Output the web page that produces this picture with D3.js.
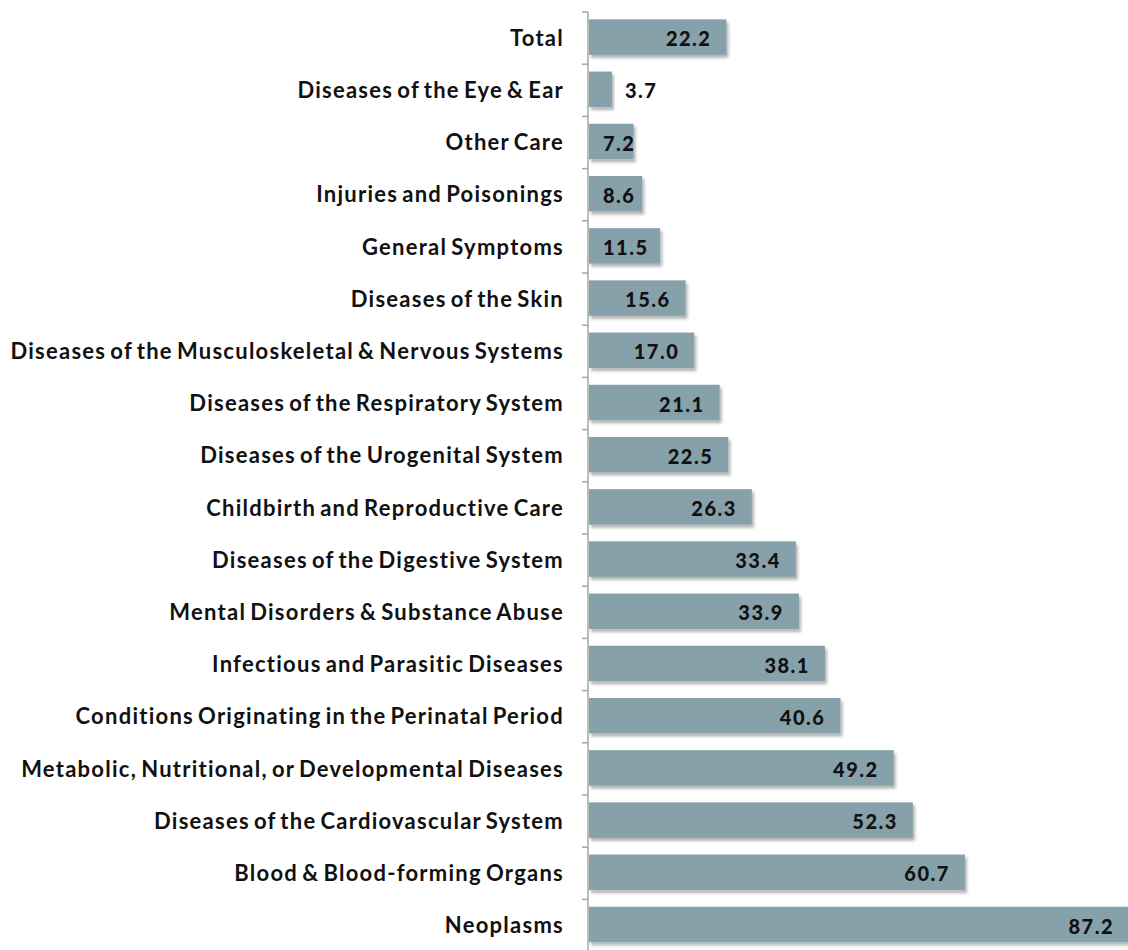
<!DOCTYPE html>
<html>
<head>
<meta charset="utf-8">
<script src="https://cdn.jsdelivr.net/npm/d3@7"></script>
<style>
  body { margin: 0; background: #fff; }
  text { font-family: Lato, "Liberation Sans", sans-serif; font-weight: bold; fill: #111; }
</style>
</head>
<body>
<div id="chart"></div>
<script>
const width = 1128, height = 950;

// data, top to bottom
const categories = [
    "Total",
    "Diseases of the Eye & Ear",
    "Other Care",
    "Injuries and Poisonings",
    "General Symptoms",
    "Diseases of the Skin",
    "Diseases of the Musculoskeletal & Nervous Systems",
    "Diseases of the Respiratory System",
    "Diseases of the Urogenital System",
    "Childbirth and Reproductive Care",
    "Diseases of the Digestive System",
    "Mental Disorders & Substance Abuse",
    "Infectious and Parasitic Diseases",
    "Conditions Originating in the Perinatal Period",
    "Metabolic, Nutritional, or Developmental Diseases",
    "Diseases of the Cardiovascular System",
    "Blood & Blood-forming Organs",
    "Neoplasms"
];
const values = [22.2, 3.7, 7.2, 8.6, 11.5, 15.6, 17.0, 21.1, 22.5, 26.3, 33.4, 33.9, 38.1, 40.6, 49.2, 52.3, 60.7, 87.2];

const rows = categories.map((c, i) => ({ name: c, value: values[i] }));

const axisX = 588;

const svg = d3.select("#chart")
    .append("svg")
    .attr("width", width)
    .attr("height", height);

// soft drop shadow like the office chart
const defs = svg.append("defs");
defs.append("filter")
    .attr("id", "shadow")
    .attr("x", "-5%").attr("y", "-20%")
    .attr("width", "115%").attr("height", "160%")
    .append("feDropShadow")
    .attr("dx", 2).attr("dy", 3)
    .attr("stdDeviation", 1.6)
    .attr("flood-color", "#000")
    .attr("flood-opacity", 0.3);

const x = d3.scaleLinear().domain([0, 87.2]).range([axisX + 1, 1129]);

const y = d3.scaleBand()
    .domain(categories)
    .range([12, 951.6])
    .paddingInner(0.32)
    .paddingOuter(0.16);

// bars
svg.append("g")
    .selectAll("rect")
    .data(rows)
    .join("rect")
    .attr("x", x(0))
    .attr("y", d => y(d.name) - 1)
    .attr("width", d => x(d.value) - x(0))
    .attr("height", y.bandwidth())
    .attr("fill", "#87a1ab")
    .attr("filter", "url(#shadow)");

// category labels
svg.append("g")
    .selectAll("text")
    .data(rows)
    .join("text")
    .attr("x", 564)
    .attr("y", d => y(d.name) + y.bandwidth() / 2)
    .attr("dy", "0.35em")
    .attr("text-anchor", "end")
    .style("font-size", "22px")
    .style("letter-spacing", "1.25px")
    .style("word-spacing", "-2.5px")
    .text(d => d.name);

// value labels - inside end, but never closer than 14px to the axis;
// the tiny bar gets its label outside
const labels = svg.append("g")
    .selectAll("text")
    .data(rows)
    .join("text")
    .attr("y", d => y(d.name) + y.bandwidth() / 2 + 1)
    .attr("dy", "0.35em")
    .style("font-size", "20px")
    .style("letter-spacing", "1.5px")
    .style("font-weight", 900)
    .text(d => d.value.toFixed(1));

labels.each(function (d) {
    const w = this.getComputedTextLength();
    let left;
    if (d.value < 5) left = x(d.value) + 13;
    else left = Math.max(x(d.value) - 15 - w, x(0) + 14);
    d3.select(this).attr("x", left);
});

// axis line and ticks between categories
const ax = svg.append("g").attr("stroke", "#a6a6a6").attr("stroke-width", 1.5);
ax.append("line")
    .attr("x1", axisX).attr("x2", axisX)
    .attr("y1", 12).attr("y2", height);

const step = y.step();
const bounds = categories.map(c => y(c) - step * y.paddingInner() / 2);
ax.selectAll("line.tick")
    .data(bounds)
    .join("line")
    .attr("class", "tick")
    .attr("x1", axisX - 6).attr("x2", axisX)
    .attr("y1", d => d).attr("y2", d => d);
</script>
</body>
</html>
